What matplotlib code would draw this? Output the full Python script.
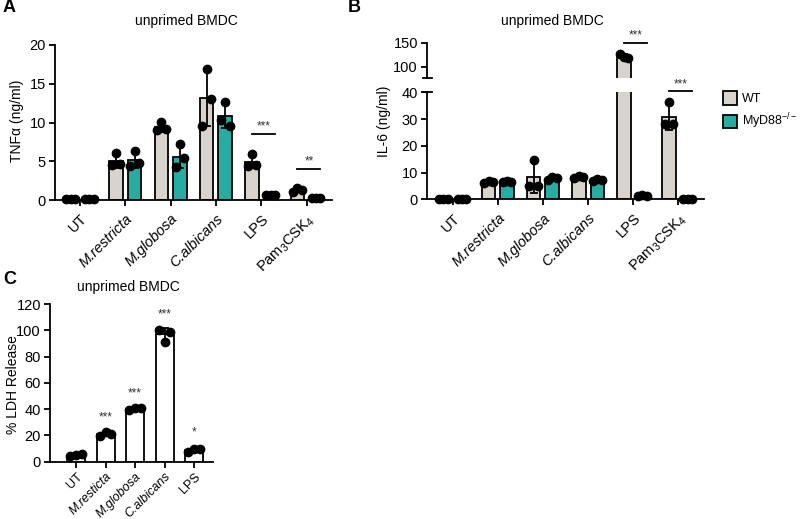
import numpy as np
import matplotlib
matplotlib.use('Agg')
import matplotlib.pyplot as plt
from matplotlib.patches import Patch
from matplotlib.lines import Line2D

plt.rcParams['font.family'] = ['Liberation Sans', 'DejaVu Sans']
plt.rcParams['mathtext.fontset'] = 'custom'
plt.rcParams['mathtext.rm'] = 'Liberation Sans'
plt.rcParams['mathtext.it'] = 'Liberation Sans:italic'

# --- data (3 replicates per bar, mean +/- SD is drawn) ---
groups_ab = ['UT', 'M.restricta', 'M.globosa', 'C.albicans', 'LPS', 'Pam$_3$CSK$_4$']
italic_ab = [False, True, True, True, False, False]

tnf_wt = [[0.1, 0.1, 0.1], [4.5, 6.1, 4.6], [9.0, 10.1, 9.1], [9.6, 16.9, 13.0], [4.4, 5.9, 4.5], [1.0, 1.6, 1.3]]
tnf_ko = [[0.1, 0.1, 0.1], [4.4, 6.3, 4.8], [4.2, 7.2, 5.4], [10.3, 12.6, 9.6], [0.6, 0.6, 0.6], [0.2, 0.2, 0.2]]
tnf_sig = [(4, '***', 8.5), (5, '**', 4.0)]

il6_wt = [[0.1, 0.1, 0.1], [6.0, 6.8, 6.5], [4.8, 14.8, 4.9], [8.0, 8.8, 8.3], [127, 121, 118], [28, 36.5, 28]]
il6_ko = [[0.1, 0.1, 0.1], [6.3, 6.8, 6.6], [7.2, 8.2, 7.8], [7.0, 7.5, 7.2], [1.4, 1.5, 1.4], [0.1, 0.1, 0.1]]
il6_sig = [(4, '***', 150), (5, '***', 40.3)]

groups_c = ['UT', 'M.resticta', 'M.globosa', 'C.albicans', 'LPS']
italic_c = [False, True, True, True, False]
ldh = [[4.5, 5.0, 5.5], [19.5, 22.5, 21.0], [39.5, 41.0, 40.5], [100.5, 91.0, 99.0], [7.5, 9.5, 9.5]]
ldh_sig = ['', '***', '***', '***', '*']
ldh_sig_y = [0, 34, 52, 112, 22]

GRAY = '#d8d3cd'
TEAL = '#27aca2'
W = 800
H = 519


def fx(px):
    return px / W


def fy(py):
    return 1 - py / H


def style(ax):
    for s in ['top', 'right']:
        ax.spines[s].set_visible(False)
    for s in ['left', 'bottom']:
        ax.spines[s].set_linewidth(1.3)
    ax.tick_params(width=1.3, length=4.5, labelsize=10.5, pad=2)


def draw_bars(ax, centers, reps, color, width, ymax=None):
    means = [np.mean(r) for r in reps]
    sds = [np.std(r, ddof=1) for r in reps]
    ax.bar(centers, means, width, color=color, edgecolor='black', linewidth=1.3, zorder=2)
    ax.errorbar(centers, means, yerr=sds, fmt='none', ecolor='black',
                elinewidth=1.3, capsize=3.2, capthick=1.3, zorder=3)
    jit = np.array([-0.32, 0, 0.32]) * width
    for c, r in zip(centers, reps):
        for dx, v in zip(jit, r):
            inside = ymax is None or v <= ymax
            ax.plot(c + dx, v, 'o', color='black', ms=6, zorder=4, clip_on=not inside)


def set_xlabels(ax, labels, italics, size=10.5, pad=4):
    ax.set_xticks(range(len(labels)))
    ax.set_xticklabels(labels, rotation=45, ha='right', rotation_mode='anchor', fontsize=size)
    ax.tick_params(axis='x', pad=pad)
    for t, it in zip(ax.get_xticklabels(), italics):
        if it:
            t.set_fontstyle('italic')


def sig_line(ax, g, text, y):
    ax.plot([g - 0.21, g + 0.3], [y, y], color='black', lw=1.3, clip_on=False)
    ax.annotate(text, (g + 0.05, y), xytext=(0, 1), textcoords='offset points',
                ha='center', va='bottom', fontsize=8.5, color='#333333', annotation_clip=False)


fig = plt.figure(figsize=(W / 100, H / 100), dpi=100)
x = np.arange(len(groups_ab))
off = 0.205
bw = 0.3

# ---------- A ----------
axA = fig.add_axes([fx(55), fy(200), fx(332) - fx(55), fy(45) - fy(200)])
draw_bars(axA, x - off, tnf_wt, GRAY, bw)
draw_bars(axA, x + off, tnf_ko, TEAL, bw)
axA.set_xlim(-0.55, 5.56)
axA.set_ylim(0, 20)
axA.set_yticks([0, 5, 10, 15, 20])
style(axA)
set_xlabels(axA, groups_ab, italic_ab)
for g, t, y in tnf_sig:
    sig_line(axA, g, t, y)
fig.text(fx(17), fy(121), 'TNF\u03b1 (ng/ml)', rotation=90, ha='center', va='center', fontsize=10)
fig.text(fx(186), fy(21), 'unprimed BMDC', ha='center', va='center', fontsize=10)
fig.text(fx(3), fy(8), 'A', ha='left', va='center', fontsize=13, fontweight='bold')

# ---------- B (broken axis) ----------
b_left, b_right = 427, 704
axBt = fig.add_axes([fx(b_left), fy(78), fx(b_right) - fx(b_left), fy(42.7) - fy(78)])
axBb = fig.add_axes([fx(b_left), fy(199.3), fx(b_right) - fx(b_left), fy(92.3) - fy(199.3)])
for ax, top in [(axBt, None), (axBb, 40)]:
    draw_bars(ax, x - off, il6_wt, GRAY, bw, ymax=top)
    draw_bars(ax, x + off, il6_ko, TEAL, bw, ymax=top)
    ax.set_xlim(-0.57, 5.57)
    style(ax)
axBt.set_ylim(76.5, 150)
axBt.set_yticks([100, 150])
axBt.spines['bottom'].set_visible(False)
axBt.tick_params(axis='x', bottom=False, labelbottom=False)
axBb.set_ylim(0, 40)
axBb.set_yticks([0, 10, 20, 30, 40])
set_xlabels(axBb, groups_ab, italic_ab)
for ypx in [78, 92.3]:
    fig.add_artist(Line2D([fx(b_left - 4), fx(b_left + 5)], [fy(ypx), fy(ypx)], color='black', lw=1.3))
sig_line(axBt, il6_sig[0][0], il6_sig[0][1], il6_sig[0][2])
sig_line(axBb, il6_sig[1][0], il6_sig[1][1], il6_sig[1][2])
fig.text(fx(384), fy(121), 'IL-6 (ng/ml)', rotation=90, ha='center', va='center', fontsize=10)
fig.text(fx(552), fy(21), 'unprimed BMDC', ha='center', va='center', fontsize=10)
fig.text(fx(348), fy(8), 'B', ha='left', va='center', fontsize=13, fontweight='bold')

handles = [Patch(facecolor=GRAY, edgecolor='black', linewidth=1.3),
           Patch(facecolor=TEAL, edgecolor='black', linewidth=1.3)]
fig.legend(handles, ['WT', 'MyD88$^{-/-}$'], loc='upper left',
           bbox_to_anchor=(fx(723), fy(91)), frameon=False, fontsize=9,
           handlelength=1.1, handleheight=1.3, handletextpad=0.45,
           labelspacing=0.55, borderpad=0, borderaxespad=0)

# ---------- C ----------
xc = np.arange(len(groups_c))
axC = fig.add_axes([fx(50), fy(461.7), fx(213) - fx(50), fy(304) - fy(461.7)])
draw_bars(axC, xc, ldh, 'white', 0.61)
axC.set_xlim(-0.88, 4.64)
axC.set_ylim(0, 120)
axC.set_yticks(range(0, 121, 20))
style(axC)
set_xlabels(axC, groups_c, italic_c, size=9, pad=2)
fig.text(fx(13), fy(385), '% LDH Release', rotation=90, ha='center', va='center', fontsize=10)
for g, (t, y) in enumerate(zip(ldh_sig, ldh_sig_y)):
    if t:
        axC.text(g, y, t, ha='center', va='center', fontsize=8.5, color='#333333')
fig.text(fx(128), fy(287), 'unprimed BMDC', ha='center', va='center', fontsize=10)
fig.text(fx(3), fy(279), 'C', ha='left', va='center', fontsize=13, fontweight='bold')

fig.savefig('out.png', dpi=100)
